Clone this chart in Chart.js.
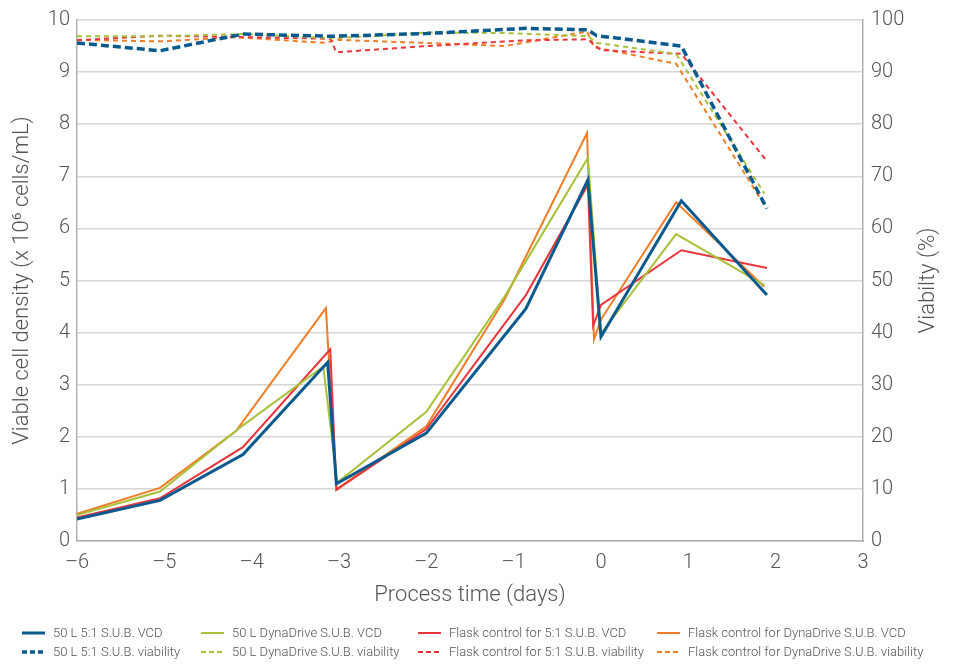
<!DOCTYPE html>
<html>
<head>
<meta charset="utf-8">
<title>Viable cell density and viability</title>
<script src="https://cdn.jsdelivr.net/npm/chart.js@4.4.1/dist/chart.umd.min.js"></script>
<style>
  html, body { margin: 0; padding: 0; background: #fff; }
  canvas { display: block; }
</style>
</head>
<body>
<canvas id="cultureChart" width="956" height="664"></canvas>
<script>
// process time (days) and readings for each culture
const subVcdDays = [-6, -5.05, -4.1, -3.13, -3.03, -2, -0.86, -0.15, 0.0, 0.92, 1.9];
const subVcd = [0.42, 0.78, 1.66, 3.43, 1.1, 2.07, 4.46, 6.93, 3.92, 6.53, 4.72];
const dynaVcdDays = [-6, -5.05, -4.1, -3.18, -3.02, -2, -1.1, -0.15, 0.0, 0.86, 1.87];
const dynaVcd = [0.5, 0.95, 2.22, 3.35, 1.12, 2.48, 4.7, 7.35, 3.98, 5.89, 4.91];
const flaskSubVcdDays = [-6, -5.05, -4.1, -3.1, -3.03, -2, -0.86, -0.15, -0.09, 0.0, 0.92, 1.9];
const flaskSubVcd = [0.45, 0.82, 1.8, 3.68, 0.98, 2.15, 4.72, 6.84, 4.13, 4.53, 5.58, 5.24];
const flaskDynaVcdDays = [-6, -5.05, -4.18, -3.15, -3.03, -2, -1.1, -0.16, -0.08, 0.0, 0.86, 1.87];
const flaskDynaVcd = [0.52, 1.02, 2.11, 4.47, 0.99, 2.2, 4.65, 7.83, 3.87, 4.25, 6.5, 4.88];

const subViaDays = [-6, -5.05, -4.1, -3.13, -3.03, -2, -0.86, -0.15, -0.05, 0.92, 1.9];
const subVia = [95.6, 94.1, 97.3, 96.9, 96.9, 97.4, 98.4, 98.1, 97.0, 95.0, 63.8];
const dynaViaDays = [-6, -5.05, -4.1, -3.18, -3.02, -2, -1.1, -0.15, -0.05, 0.86, 1.87];
const dynaVia = [96.9, 96.9, 97.3, 96.6, 96.5, 97.6, 97.5, 96.9, 95.6, 93.5, 66.7];
const flaskSubViaDays = [-6, -5.05, -4.1, -3.1, -3.03, -2, -0.86, -0.15, 0.0, 0.92, 1.9];
const flaskSubVia = [96.1, 97.0, 96.7, 96.4, 93.8, 95.0, 96.1, 96.3, 94.2, 93.5, 72.9];
const flaskDynaViaDays = [-6, -5.05, -4.18, -3.15, -3.03, -2, -1.1, -0.16, -0.08, 0.86, 1.87];
const flaskDynaVia = [96.2, 95.9, 96.7, 95.6, 96.2, 95.6, 95.0, 97.8, 94.8, 91.6, 64.5];

const seriesLabels = [
    '50 L 5:1 S.U.B. VCD', '50 L DynaDrive S.U.B. VCD',
    'Flask control for 5:1 S.U.B. VCD', 'Flask control for DynaDrive S.U.B. VCD',
    '50 L 5:1 S.U.B. viability', '50 L DynaDrive S.U.B. viability',
    'Flask control for 5:1 S.U.B. viability', 'Flask control for DynaDrive S.U.B. viability'
];

const BLUE = '#0a5a8e';
const GREEN = '#a8c13a';
const RED = '#e8363c';
const ORANGE = '#f07e28';
const TEXT = '#555555';
const FONT = 'Roboto, "Liberation Sans", sans-serif';

function points(days, vals) {
    return days.map((d, i) => ({ x: d, y: vals[i] }));
}

function line(label, days, vals, color, width, dash, axis) {
    return {
        label: label,
        data: points(days, vals),
        borderColor: color,
        backgroundColor: color,
        borderWidth: width,
        borderDash: dash,
        borderJoinStyle: 'miter',
        pointRadius: 0,
        tension: 0,
        fill: false,
        yAxisID: axis
    };
}

// legend laid out as a 4 x 2 grid under the x axis, plus right-hand title
const legendCols = [22, 201, 418, 657];
const legendRows = [633, 652];

const gridLegend = {
    id: 'gridLegend',
    afterDraw(chart) {
        const ctx = chart.ctx;
        ctx.save();
        ctx.font = '300 13px ' + FONT;
        ctx.fillStyle = TEXT;
        ctx.textBaseline = 'middle';
        chart.data.datasets.forEach((ds, i) => {
            const x = legendCols[i % 4];
            const y = legendRows[Math.floor(i / 4)];
            ctx.beginPath();
            ctx.strokeStyle = ds.borderColor;
            ctx.lineWidth = ds.borderWidth;
            ctx.setLineDash(ds.borderDash.length ? [5, 3] : []);
            ctx.moveTo(x, y);
            ctx.lineTo(x + 23, y);
            ctx.stroke();
            ctx.setLineDash([]);
            ctx.fillText(ds.label, x + 31, y + 1);
        });

        const area = chart.chartArea;
        ctx.translate(928, (area.top + area.bottom) / 2);
        ctx.rotate(-Math.PI / 2);
        ctx.font = '300 22px ' + FONT;
        ctx.textAlign = 'center';
        ctx.fillText('Viabilty (%)', 0, 0);
        ctx.restore();
    }
};

Chart.defaults.font.family = FONT;
Chart.defaults.font.weight = '300';
Chart.defaults.color = TEXT;

new Chart(document.getElementById('cultureChart'), {
    type: 'line',
    data: {
        datasets: [
            line(seriesLabels[0], subVcdDays, subVcd, BLUE, 3, [], 'y'),
            line(seriesLabels[1], dynaVcdDays, dynaVcd, GREEN, 2, [], 'y'),
            line(seriesLabels[2], flaskSubVcdDays, flaskSubVcd, RED, 2, [], 'y'),
            line(seriesLabels[3], flaskDynaVcdDays, flaskDynaVcd, ORANGE, 2, [], 'y'),
            line(seriesLabels[4], subViaDays, subVia, BLUE, 3.5, [8, 4], 'y1'),
            line(seriesLabels[5], dynaViaDays, dynaVia, GREEN, 2, [5, 4], 'y1'),
            line(seriesLabels[6], flaskSubViaDays, flaskSubVia, RED, 2, [5, 4], 'y1'),
            line(seriesLabels[7], flaskDynaViaDays, flaskDynaVia, ORANGE, 2, [5, 4], 'y1')
        ]
    },
    options: {
        responsive: false,
        animation: false,
        layout: { padding: { top: 16, right: 0, left: 0, bottom: 0 } },
        plugins: { legend: { display: false }, tooltip: { enabled: false } },
        scales: {
            x: {
                type: 'linear',
                min: -6,
                max: 3,
                ticks: {
                    stepSize: 1,
                    padding: 10,
                    font: { size: 20 },
                    callback: v => v < 0 ? '\u2013' + Math.abs(v) : String(v)
                },
                grid: { display: false, drawTicks: false },
                border: { display: true, color: '#b0b0b0', width: 1.5 },
                title: {
                    display: true,
                    text: 'Process time (days)',
                    font: { size: 22 },
                    padding: { top: 4, bottom: 55 }
                },
                afterFit: s => { s.height = 123; }
            },
            y: {
                position: 'left',
                min: 0,
                max: 10,
                ticks: { stepSize: 1, padding: 7, font: { size: 20 } },
                grid: { color: '#d6d6d6', lineWidth: 1.5, drawTicks: false },
                border: { display: true, color: '#b0b0b0', width: 1.5 },
                title: {
                    display: true,
                    text: 'Viable cell density (x 10\u2076 cells/mL)',
                    font: { size: 22 },
                    padding: { top: 9, bottom: 0 }
                },
                afterFit: s => { s.width = 77; }
            },
            y1: {
                position: 'right',
                min: 0,
                max: 100,
                ticks: { stepSize: 10, padding: 8, font: { size: 20 } },
                grid: { drawOnChartArea: false, drawTicks: false },
                border: { display: true, color: '#b0b0b0', width: 1.5 },
                afterFit: s => { s.width = 93; }
            }
        }
    },
    plugins: [gridLegend]
});
</script>
</body>
</html>
